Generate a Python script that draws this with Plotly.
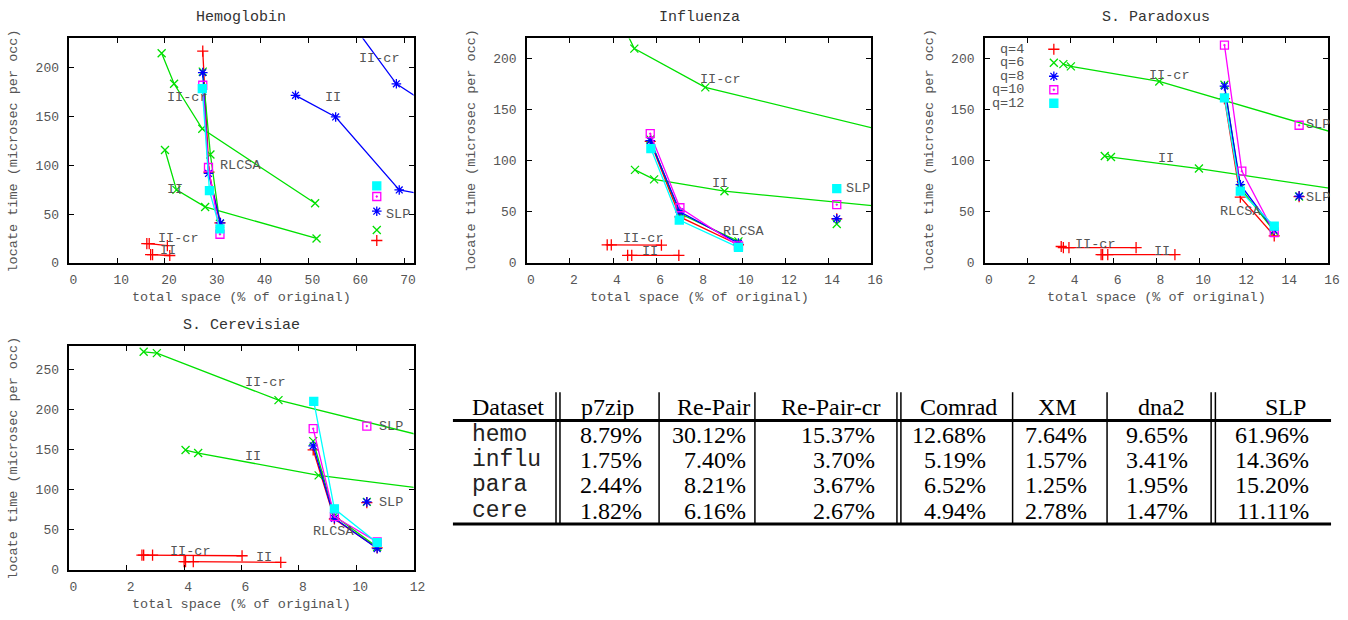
import plotly.graph_objects as go

W, H = 1348, 620

# ---------------- data ----------------
Q = [4, 6, 8, 10, 12]
Q_LABELS = ["q=4", "q=6", "q=8", "q=10", "q=12"]

# Hemoglobin
hemo_rlcsa_x = [[27.9, 29.2, 31.5], [27.9, 29.5, 31.5], [27.9, 29.1, 31.6], [27.9, 29.1, 31.5], [27.8, 29.3, 31.5]]
hemo_rlcsa_y = [[217, 93, 41], [196, 111, 40], [195, 91.6, 41], [182, 97.7, 29.3], [178.5, 74, 34.7]]
hemo_iicr_x = [[16.2, 16.7, 20.5], [19.3, 21.9, 27.8, 51.4], [56, 68.4, 78], None, None]
hemo_iicr_y = [[19.6, 19.6, 17.6], [214.8, 183.5, 137.4, 61], [266, 183.5, 153], None, None]
hemo_ii_x = [[17.0, 17.4, 21.0], [20.0, 22.4, 28.4, 51.7], [47.3, 55.7, 69.0, 80], None, None]
hemo_ii_y = [[8.5, 8.5, 7.5], [115.6, 74.8, 57.3, 25], [171.7, 149.5, 74.7, 65], None, None]
hemo_slp_x = [64.3, 64.3, 64.3, 64.3, 64.3]
hemo_slp_y = [22.9, 33.7, 52.9, 68, 78.8]

# Influenza
influ_rlcsa_x = [[5.73, 7.11, 9.83], [5.73, 7.11, 9.83], [5.73, 7.11, 9.83], [5.73, 7.11, 9.83], [5.76, 7.08, 9.83]]
influ_rlcsa_y = [[119, 45, 17.7], [121, 48.3, 21], [119.8, 50, 19.3], [126.6, 54, 16.7], [112, 41.9, 15.1]]
influ_iicr_x = [[3.73, 3.92, 6.25], [4.3, 4.99, 8.29, 20], None, None, None]
influ_iicr_y = [[17.6, 17.6, 17.4], [240, 210, 172, 112], None, None, None]
influ_ii_x = [[4.68, 4.87, 7.06], [5.02, 5.91, 9.18, 20], None, None, None]
influ_ii_y = [[7.4, 7.4, 7.4], [91.1, 81.8, 70.2, 48], None, None, None]
influ_slp_x = [14.4, 14.4, 14.4, 14.4, 14.4]
influ_slp_y = [43, 38, 43.2, 57, 72.8]

# S. Paradoxus
para_rlcsa_x = [[11.17, 11.91, 13.49], [11.17, 11.91, 13.49], [11.17, 11.91, 13.49], [11.17, 11.98, 13.49], [11.17, 11.91, 13.49]]
para_rlcsa_y = [[161, 64.4, 26.4], [174.6, 73.4, 31], [173.3, 76.6, 32], [213.5, 89.9, 29.6], [161.7, 70.2, 36]]
para_iicr_x = [[3.56, 3.66, 3.92, 7.05], [3.66, 4.01, 8.13, 20], None, None, None]
para_iicr_y = [[16, 15, 15, 15], [194.8, 192.6, 177.8, 104.6], None, None, None]
para_ii_x = [[5.42, 5.49, 5.73, 8.86], [5.59, 5.88, 9.98, 20], None, None, None]
para_ii_y = [[8, 8, 8, 8], [104.7, 103.7, 92.4, 60.6], None, None, None]
para_slp_x = [14.65, 14.65, 14.65, 14.65, None]
para_slp_y = [65, 65, 65.4, 134.9, None]

# S. Cerevisiae
cere_rlcsa_x = [[8.5, 9.24, 10.73], [8.5, 9.24, 10.73], [8.5, 9.24, 10.73], [8.5, 9.24, 10.73], [8.52, 9.24, 10.73]]
cere_rlcsa_y = [[150, 63.6, 27.5], [161, 67.7, 28.7], [155, 64.4, 26.7], [176.5, 66.5, 35], [210.6, 76.4, 34]]
cere_iicr_x = [[2.53, 2.59, 2.9, 6.02], [2.59, 3.05, 7.29, 14], None, None, None]
cere_iicr_y = [[18.5, 18.5, 18.5, 17.7], [272.6, 271, 212.2, 152.6], None, None, None]
cere_ii_x = [[4.0, 4.05, 4.32, 7.37], [4.05, 4.49, 8.69, 14], None, None, None]
cere_ii_y = [[10.3, 10.3, 10.3, 9.4], [149.8, 146.1, 118.2, 94], None, None, None]
cere_slp_x = [10.37, 10.37, 10.37, 10.37, None]
cere_slp_y = [84, 85, 85, 179.8, None]

# in-plot labels (text, x, y)
hemo_labels = [("II-cr", 20.1, 169.4), ("RLCSA", 31.0, 99.3), ("II", 20.1, 74.7), ("II-cr", 18.1, 24.6),
               ("II", 18.6, 12.8), ("II-cr", 60.1, 209.4), ("II", 53.1, 169.4), ("SLP", 65.9, 49.8)]
influ_labels = [("II-cr", 7.95, 179.4), ("II", 8.52, 77.9), ("RLCSA", 9.01, 31.2), ("SLP", 14.74, 72.5),
                ("II-cr", 4.35, 23.5), ("II", 5.27, 11.3)]
para_labels = [("II-cr", 7.57, 183.9), ("II", 7.97, 102.1), ("SLP", 14.88, 135.3), ("SLP", 14.88, 64.4),
               ("RLCSA", 10.89, 49.9), ("II-cr", 4.11, 17.7), ("II", 7.8, 11.3)]
cere_labels = [("II-cr", 6.05, 234), ("II", 6.05, 141.6), ("SLP", 10.73, 179.4), ("SLP", 10.73, 84.2),
               ("RLCSA", 8.41, 48), ("II-cr", 3.43, 23.4), ("II", 6.43, 15.2)]

# table
table_header = ["Dataset", "p7zip", "Re-Pair", "Re-Pair-cr", "Comrad", "XM", "dna2", "SLP"]
table_rows = ["hemo", "influ", "para", "cere"]
table_values = [
    ["8.79%", "30.12%", "15.37%", "12.68%", "7.64%", "9.65%", "61.96%"],
    ["1.75%", "7.40%", "3.70%", "5.19%", "1.57%", "3.41%", "14.36%"],
    ["2.44%", "8.21%", "3.67%", "6.52%", "1.25%", "1.95%", "15.20%"],
    ["1.82%", "6.16%", "2.67%", "4.94%", "2.78%", "1.47%", "11.11%"],
]

# ---------------- styles ----------------
COLORS = ["#ff0000", "#00e000", "#0000ff", "#ff00ff", "#00ffff"]
SYMBOLS = ["cross-thin-open", "x-thin-open", "asterisk-open", "square-open-dot", "square"]
TXT = "#555555"
MONO = "Liberation Mono"
SERIF = "Liberation Serif"


def fx(px):
    return px / W


def fy(py):
    return 1 - py / H


panels = [
    dict(title="Hemoglobin", box=(70, 39, 417.3, 266.7), xr=[0, 72], yr=[0, 230], xd=10,
         rx=hemo_rlcsa_x, ry=hemo_rlcsa_y, cx=hemo_iicr_x, cy=hemo_iicr_y, ix=hemo_ii_x, iy=hemo_ii_y,
         sx=hemo_slp_x, sy=hemo_slp_y, labels=hemo_labels),
    dict(title="Influenza", box=(531.7, 39, 879, 266.7), xr=[0, 16], yr=[0, 220], xd=2,
         rx=influ_rlcsa_x, ry=influ_rlcsa_y, cx=influ_iicr_x, cy=influ_iicr_y, ix=influ_ii_x, iy=influ_ii_y,
         sx=influ_slp_x, sy=influ_slp_y, labels=influ_labels),
    dict(title="S. Paradoxus", box=(993.7, 39, 1340, 266.7), xr=[0, 16], yr=[0, 220], xd=2,
         rx=para_rlcsa_x, ry=para_rlcsa_y, cx=para_iicr_x, cy=para_iicr_y, ix=para_ii_x, iy=para_ii_y,
         sx=para_slp_x, sy=para_slp_y, labels=para_labels),
    dict(title="S. Cerevisiae", box=(70, 351, 417.3, 578.3), xr=[0, 12], yr=[0, 280], xd=2,
         rx=cere_rlcsa_x, ry=cere_rlcsa_y, cx=cere_iicr_x, cy=cere_iicr_y, ix=cere_ii_x, iy=cere_ii_y,
         sx=cere_slp_x, sy=cere_slp_y, labels=cere_labels),
]

fig = go.Figure()
annotations = []
shapes = []
layout = {}


def marker(i):
    return dict(symbol=SYMBOLS[i], color=COLORS[i], size=8,
                line=dict(color=COLORS[i], width=1.3))


for k, p in enumerate(panels):
    n = k + 1
    xa, ya = f"x{n if n > 1 else ''}", f"y{n if n > 1 else ''}"
    x0, y0, x1, y1 = p["box"]
    axis = dict(showline=True, linecolor="black", linewidth=1.5, mirror="ticks", ticks="inside",
                ticklen=5, tickcolor="black", tickwidth=1, showgrid=False, zeroline=False,
                tickfont=dict(family=MONO, size=13, color=TXT))
    layout[f"xaxis{n}"] = dict(axis, domain=[fx(x0), fx(x1)], range=p["xr"], dtick=p["xd"],
                               anchor=ya, ticklabelstandoff=4, ticklabelshift=4)
    layout[f"yaxis{n}"] = dict(axis, domain=[fy(y1), fy(y0)], range=p["yr"], dtick=50,
                               anchor=xa, ticklabelstandoff=6)
    for i in range(5):
        for sx, sy in ((p["cx"], p["cy"]), (p["ix"], p["iy"])):
            if sx[i] is not None:
                fig.add_trace(go.Scatter(x=sx[i], y=sy[i], mode="lines+markers", xaxis=xa, yaxis=ya,
                                         line=dict(color=COLORS[i], width=1.3), marker=marker(i),
                                         showlegend=False))
        fig.add_trace(go.Scatter(x=p["rx"][i], y=p["ry"][i], mode="lines+markers", xaxis=xa, yaxis=ya,
                                 line=dict(color=COLORS[i], width=1.3), marker=marker(i), showlegend=False))
    for i in range(5):
        if p["sx"][i] is not None:
            fig.add_trace(go.Scatter(x=[p["sx"][i]], y=[p["sy"][i]], mode="markers", xaxis=xa, yaxis=ya,
                                     marker=marker(i), showlegend=False))
    for t, lx, ly in p["labels"]:
        annotations.append(dict(text=t, x=lx, y=ly, xref=xa, yref=ya, xanchor="left", yanchor="middle",
                                showarrow=False, font=dict(family=MONO, size=13.5, color=TXT)))
    cx = (x0 + x1) / 2
    annotations.append(dict(text=p["title"], x=fx(cx), y=fy(y0 - 21), xref="paper", yref="paper",
                            xanchor="center", yanchor="middle", showarrow=False,
                            font=dict(family=MONO, size=15, color="#333")))
    annotations.append(dict(text="total space (% of original)", x=fx(cx), y=fy(y1 + 35), xref="paper",
                            yref="paper", xanchor="center", yanchor="middle", showarrow=False,
                            font=dict(family=MONO, size=13.5, color=TXT)))
    annotations.append(dict(text="locate time (microsec per occ)", x=fx(max(x0 - 56, 14)),
                            y=fy((y0 + y1) / 2), xref="paper", yref="paper", xanchor="center",
                            yanchor="middle", textangle=-90, showarrow=False,
                            font=dict(family=MONO, size=13.5, color=TXT)))

# legend inside S. Paradoxus (text then marker, gnuplot style)
px0, py0, px1, py1 = panels[2]["box"]
lx_data = (1063.3 - px0) / (px1 - px0) * 16
for i in range(5):
    row_py = 50 + i * 13.7
    ly_data = (py1 - row_py) / (py1 - py0) * 220
    fig.add_trace(go.Scatter(x=[lx_data], y=[ly_data], mode="markers", xaxis="x3", yaxis="y3",
                             marker=marker(i), showlegend=False))
    annotations.append(dict(text=Q_LABELS[i], x=fx(1035), y=fy(row_py), xref="paper", yref="paper",
                            xanchor="right", yanchor="middle", showarrow=False,
                            font=dict(family=MONO, size=13.5, color=TXT)))

# ---------------- table ----------------
T_LEFT, T_RIGHT = 457, 1343
T_TOP, RULE1, T_BOTTOM = 398, 426.7, 531.7
HEAD_Y = 413
ROW_Y = [441, 467, 492.5, 519]
single_v = [665, 761.7, 1021.7, 1117]
double_v = [561, 565, 905, 909, 1222, 1226.3]
head_cx = [None, 613.3, 720, 838.3, 966.7, 1066.7, 1172.3, 1296.7]
val_right = [650, 755, 885, 996.7, 1099, 1201, 1322.7]
NAME_LEFT = 474
FS = 24

for yy, wdt in ((RULE1, 3), (T_BOTTOM, 3)):
    shapes.append(dict(type="line", xref="paper", yref="paper", x0=fx(T_LEFT), x1=fx(T_RIGHT),
                       y0=fy(yy), y1=fy(yy), line=dict(color="black", width=wdt)))
for vx in single_v + double_v:
    shapes.append(dict(type="line", xref="paper", yref="paper", x0=fx(vx), x1=fx(vx),
                       y0=fy(T_TOP), y1=fy(T_BOTTOM), line=dict(color="black", width=1.5)))

annotations.append(dict(text=table_header[0], x=fx(NAME_LEFT), y=fy(HEAD_Y), xref="paper", yref="paper",
                        xanchor="left", yanchor="middle", showarrow=False,
                        font=dict(family=SERIF, size=FS, color="black")))
for j in range(1, 8):
    annotations.append(dict(text=table_header[j], x=fx(head_cx[j]), y=fy(HEAD_Y), xref="paper",
                            yref="paper", xanchor="center", yanchor="middle", showarrow=False,
                            font=dict(family=SERIF, size=FS, color="black")))
for r, name in enumerate(table_rows):
    annotations.append(dict(text=name, x=fx(NAME_LEFT), y=fy(ROW_Y[r]), xref="paper", yref="paper",
                            xanchor="left", yanchor="middle", showarrow=False,
                            font=dict(family=MONO, size=23, color="#222")))
    for j, v in enumerate(table_values[r]):
        annotations.append(dict(text=v, x=fx(val_right[j]), y=fy(ROW_Y[r]), xref="paper", yref="paper",
                                xanchor="right", yanchor="middle", showarrow=False,
                                font=dict(family=SERIF, size=FS, color="black")))

fig.update_layout(width=W, height=H, margin=dict(l=0, r=0, t=0, b=0), paper_bgcolor="white",
                  plot_bgcolor="white", showlegend=False, annotations=annotations, shapes=shapes, **layout)
fig.write_html("out.html", config={"displayModeBar": False},
               post_script="document.body.style.margin='0px';document.body.style.overflow='hidden';")
